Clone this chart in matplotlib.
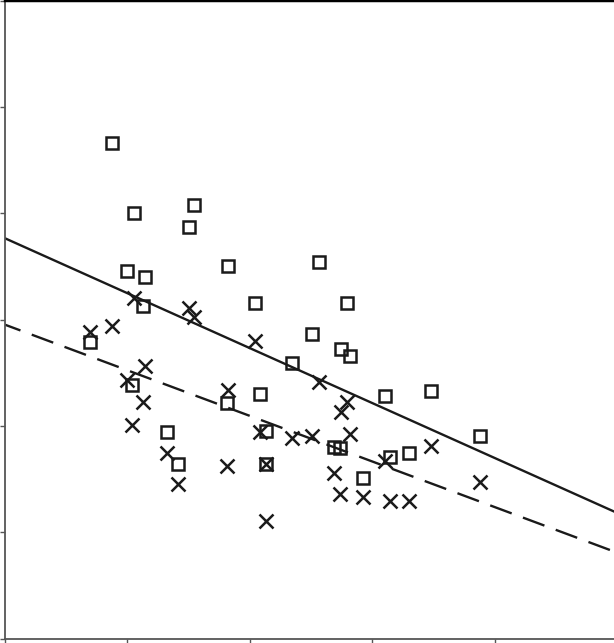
import numpy as np
import matplotlib
matplotlib.use("Agg")
import matplotlib.pyplot as plt

# shared x values for both groups
x_vals = [0.698, 0.878, 1.000, 1.041, 1.057, 1.131, 1.147, 1.327, 1.416, 1.506,
          1.547, 1.816, 1.824, 2.045, 2.086, 2.135, 2.135, 2.347, 2.510, 2.567,
          2.690, 2.739, 2.747, 2.796, 2.820, 2.927, 3.106, 3.147, 3.302, 3.482,
          3.882]

# group shown with squares
y_squares = [2.790, 4.661, 3.457, 2.385, 4.003, 3.128, 3.401, 1.943, 1.642, 3.871,
             4.078, 2.215, 3.504, 3.156, 2.300, 1.952, 1.642, 2.592, 2.865, 3.542,
             1.801, 1.792, 2.723, 3.156, 2.658, 1.510, 2.281, 1.707, 1.745, 2.328,
             1.905]

# group shown with crosses
y_crosses = [2.883, 2.940, 2.432, 2.008, 3.203, 2.225, 2.563, 1.745, 1.453, 3.109,
             3.024, 1.623, 2.338, 2.799, 1.943, 1.105, 1.642, 1.886, 1.905, 2.413,
             1.557, 1.359, 2.131, 2.225, 1.924, 1.331, 1.670, 1.293, 1.293, 1.811,
             1.472]

x_ticks = [0, 1, 2, 3, 4]
y_ticks = [0, 1, 2, 3, 4, 5, 6]

ink = '#1a1a1a'
axis_grey = '#555555'

fig = plt.figure(figsize=(6.14, 6.43), dpi=100)
ax = fig.add_axes([4.5 / 614, 4.5 / 643, 1 - 4.5 / 614, 1 - 4.5 / 643])

x = np.array(x_vals)
ax.plot(x, y_squares, 's', ms=9, mfc='none', mec=ink, mew=1.8, zorder=3)
ax.plot(x, y_crosses, 'x', ms=10, mec=ink, mew=1.8, zorder=3)

# least squares lines for each group
xline = np.array([-0.1, 5.1])
p_sq = np.polyfit(x, y_squares, 1)
p_cr = np.polyfit(x, y_crosses, 1)
ax.plot(xline, np.polyval(p_sq, xline), color=ink, lw=1.7, zorder=2)
ax.plot(xline, np.polyval(p_cr, xline), color=ink, lw=1.7,
        dashes=(9.7, 5.1), zorder=2)

ax.set_xlim(0, (614 - 4.5) / 122.5)
ax.set_ylim(0, 638.5 / 106.3)
ax.set_xticks(x_ticks)
ax.set_yticks(y_ticks)
ax.set_xticklabels([])
ax.set_yticklabels([])
ax.tick_params(direction='out', length=3.5, width=1, color=axis_grey)

ax.spines['right'].set_visible(False)
ax.spines['left'].set_color(axis_grey)
ax.spines['bottom'].set_color(axis_grey)
ax.spines['left'].set_linewidth(1.3)
ax.spines['bottom'].set_linewidth(1.3)
ax.spines['top'].set_color('black')
ax.spines['top'].set_linewidth(2.5)

fig.savefig('out.png', dpi=100)
